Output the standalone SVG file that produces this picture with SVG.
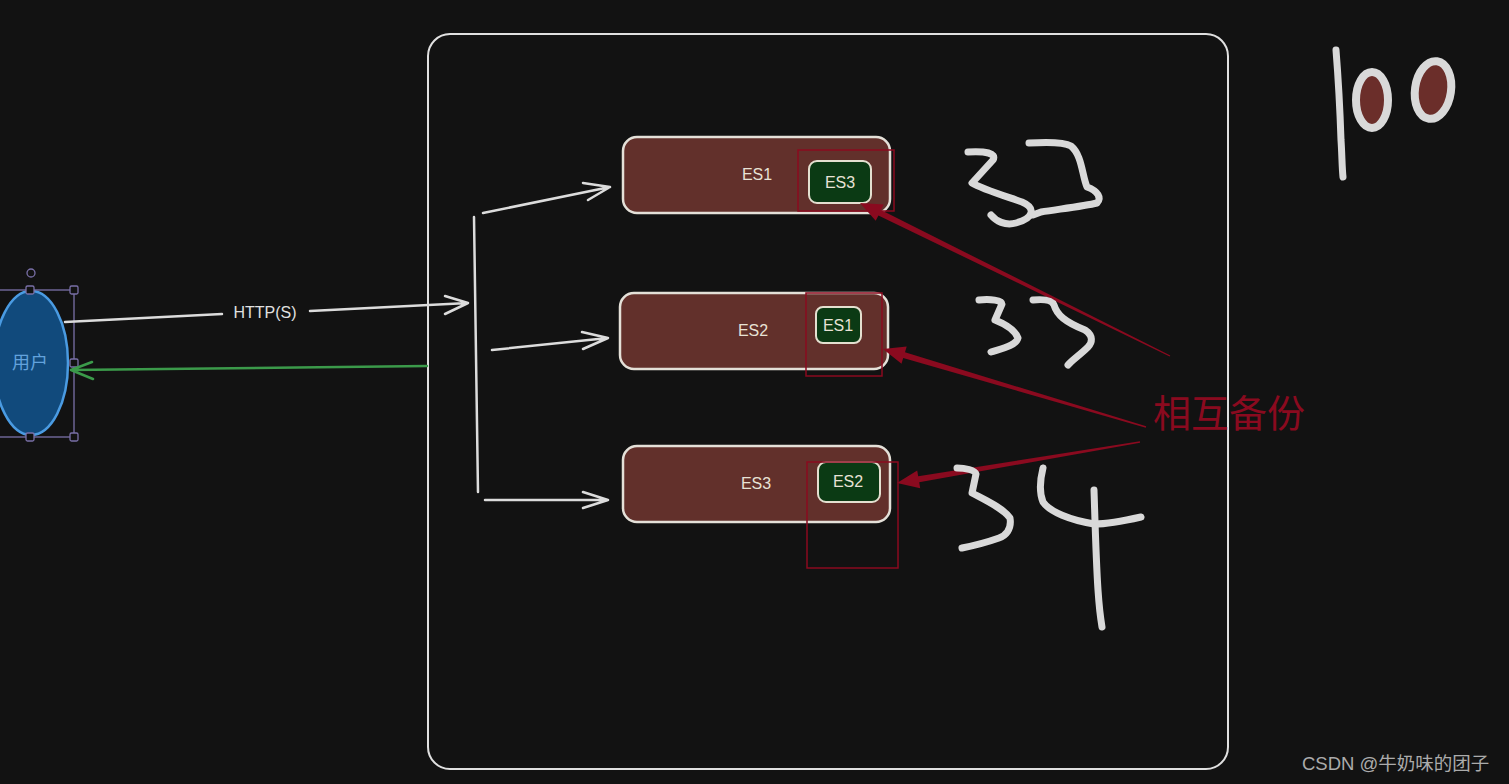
<svg xmlns="http://www.w3.org/2000/svg" width="1509" height="784" viewBox="0 0 1509 784">
<defs>
<style>
.es{fill:#62302b;stroke:#e4e0d8;stroke-width:2.5}
.esin{fill:#0b3a14;stroke:#e4e0d0;stroke-width:2}
.lbl{font-family:"Liberation Sans",Arial,sans-serif;font-size:16px;fill:#e8e2d6;text-anchor:middle}
.lblin{font-family:"Liberation Sans",Arial,sans-serif;font-size:16px;fill:#e8e2d6;text-anchor:middle}
.redbox{fill:none;stroke:#8a0a1f;stroke-width:1.5}
.wl{fill:none;stroke:#dcdcdc;stroke-width:2.5;stroke-linecap:round;stroke-linejoin:round}
.gl{fill:none;stroke:#3b9a4a;stroke-width:2.5;stroke-linecap:round;stroke-linejoin:round}
.hand{fill:none;stroke:#d9d9d9;stroke-width:7;stroke-linecap:round;stroke-linejoin:round}
.red{fill:#8a0a1f}
.sel{fill:none;stroke:#7a70a8;stroke-width:1.3}
.handle{fill:#121212;stroke:#7a70a8;stroke-width:1.3}
</style>
</defs>
<rect x="0" y="0" width="1509" height="784" fill="#121212"/>

<g id="container">
<rect x="428" y="34" width="800" height="735" rx="22" fill="none" stroke="#e0e0e0" stroke-width="2"/>
</g>

<g id="user">
<ellipse cx="31" cy="363" rx="37" ry="72" fill="#114a7c" stroke="#4a9be2" stroke-width="2.5"/>
<text x="30" y="369" font-family="'Noto Sans CJK SC',sans-serif" font-size="18" fill="#62a2dc" text-anchor="middle">用户</text>
<rect class="sel" x="-2" y="290" width="76" height="147"/>
<circle class="handle" cx="31" cy="273" r="4"/>
<rect class="handle" x="26" y="286" width="8" height="8" rx="1.5"/>
<rect class="handle" x="70" y="286" width="8" height="8" rx="1.5"/>
<rect class="handle" x="70" y="359" width="8" height="8" rx="1.5"/>
<rect class="handle" x="70" y="433" width="8" height="8" rx="1.5"/>
<rect class="handle" x="26" y="433" width="8" height="8" rx="1.5"/>
</g>

<g id="es1">
<rect class="es" x="623" y="137" width="267" height="76" rx="14"/>
<text class="lbl" x="757" y="180">ES1</text>
<rect class="esin" x="809" y="161" width="62" height="42" rx="8"/>
<text class="lblin" x="840" y="188">ES3</text>
<rect class="redbox" x="798" y="150" width="96" height="61"/>
</g>

<g id="es2">
<rect class="es" x="620" y="293" width="268" height="76" rx="14"/>
<text class="lbl" x="753" y="336">ES2</text>
<rect class="esin" x="816" y="307" width="45" height="36" rx="7"/>
<text class="lblin" x="838" y="331">ES1</text>
<rect class="redbox" x="806" y="293" width="76" height="83"/>
</g>

<g id="es3">
<rect class="es" x="623" y="446" width="267" height="76" rx="14"/>
<text class="lbl" x="756" y="489">ES3</text>
<rect class="esin" x="818" y="462" width="62" height="40" rx="8"/>
<text class="lblin" x="848" y="487">ES2</text>
<rect class="redbox" x="807" y="462" width="91" height="106"/>
</g>

<g id="connectors">
<path class="wl" d="M65,322 L222,314"/>
<path class="wl" d="M310,311 L468,303 M445,296 L468,303 L445,314"/>
<text x="265" y="318" font-family="'Liberation Sans',Arial,sans-serif" font-size="16" fill="#e0e0e0" text-anchor="middle">HTTP(S)</text>
<path class="gl" d="M427,366 L71,370 M92,362 L71,370 L93,379"/>
<path class="wl" d="M474,217 L478,492"/>
<path class="wl" d="M483,213 L610,187 M583,183 L610,187 L588,200"/>
<path class="wl" d="M492,350 L608,338 M582,332 L608,338 L583,349"/>
<path class="wl" d="M485,500 L608,500 M583,492 L608,500 L583,508"/>
<polygon class="red" points="1170.3,355.4 881,210 883.7,204.6 860,203 875.7,220.8 878.4,215.4 1169.7,356.6"/>
<polygon class="red" points="1146.2,426.3 905,352.3 906.7,346.6 883,349 901.5,363.8 903.2,358.1 1145.8,427.7"/>
<polygon class="red" points="1139.9,441.3 918.2,476.3 917.2,470.4 897,483 920.2,488.2 919.2,482.3 1140.1,442.7"/>
</g>

<g id="backup-label">
<text x="1153" y="427" font-family="'Noto Sans CJK SC',sans-serif" font-size="38" fill="#8a0a1f">相互备份</text>
</g>

<g id="sketches">
<path class="hand" d="M968,152 C985,151 997,153 993,160 L972,183 C982,189 1005,196 1022,202 C1036,208 1034,218 1016,223 C1005,226 996,221 991,215"/>
<path class="hand" d="M1029,143 C1045,142 1064,142 1071,146 C1082,155 1082,175 1087,187 C1098,191 1102,198 1097,203 C1085,206 1060,209 1041,212 L1033,215"/>
<path class="hand" d="M979,300 C990,299 1002,300 1002,304 L995,320 C1005,324 1015,330 1018,338 C1016,346 1000,349 991,352"/>
<path class="hand" d="M1033,300 C1043,299 1052,300 1054,305 C1057,315 1065,322 1085,330 C1094,336 1092,343 1088,347 C1080,355 1072,360 1068,365"/>
<path class="hand" d="M957,468 C965,468 975,470 976,474 L972,493 C985,500 1003,508 1010,518 C1012,530 1005,536 999,538 C985,543 972,546 962,548"/>
<path class="hand" d="M1043,468 C1040,480 1039,492 1043,502 C1050,512 1070,520 1094,524 C1110,524 1128,520 1141,517"/>
<path class="hand" d="M1094,490 C1095,520 1096,560 1098,590 C1099,605 1100,615 1102,627"/>
<path class="hand" d="M1336,50 C1338,75 1340,110 1341,140 C1342,155 1342,168 1343,177"/>
<ellipse cx="1372" cy="100" rx="16" ry="28" fill="#6b2e2a" stroke="#d9d9d9" stroke-width="8"/>
<ellipse cx="1433" cy="90" rx="18" ry="29" transform="rotate(8 1433 90)" fill="#6b2e2a" stroke="#d9d9d9" stroke-width="8"/>
</g>

<g id="watermark">
<text x="1302" y="770" font-family="'Liberation Sans','Noto Sans CJK SC',sans-serif" font-size="18.5" fill="#ababab">CSDN @牛奶味的团子</text>
</g>
</svg>
